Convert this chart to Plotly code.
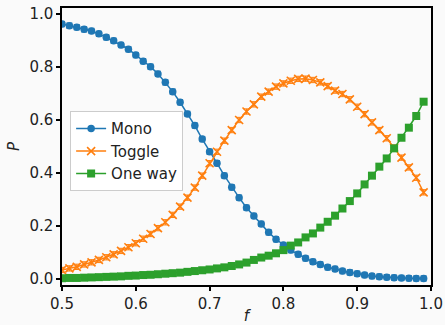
import plotly.graph_objects as go

f_vals = [round(0.50 + 0.01 * i, 2) for i in range(50)]

mono = [0.962, 0.956, 0.950, 0.942, 0.936, 0.925, 0.912, 0.899, 0.883, 0.867,
        0.845, 0.822, 0.801, 0.774, 0.742, 0.707, 0.667, 0.623, 0.579, 0.528,
        0.480, 0.437, 0.390, 0.346, 0.307, 0.269, 0.238, 0.208, 0.176, 0.150,
        0.128, 0.109, 0.093, 0.078, 0.065, 0.055, 0.044, 0.038, 0.030, 0.025,
        0.020, 0.015, 0.011, 0.009, 0.007, 0.005, 0.004, 0.003, 0.002, 0.002]

toggle = [0.034, 0.040, 0.046, 0.055, 0.063, 0.072, 0.082, 0.093, 0.106, 0.120,
          0.135, 0.152, 0.170, 0.192, 0.214, 0.242, 0.273, 0.307, 0.345, 0.390,
          0.437, 0.480, 0.522, 0.562, 0.600, 0.632, 0.659, 0.688, 0.707, 0.726,
          0.738, 0.748, 0.755, 0.756, 0.751, 0.742, 0.728, 0.711, 0.698, 0.678,
          0.650, 0.622, 0.591, 0.562, 0.531, 0.496, 0.458, 0.421, 0.382, 0.327]

one_way = [0.003, 0.004, 0.004, 0.005, 0.006, 0.007, 0.008, 0.009, 0.010, 0.012,
           0.013, 0.015, 0.016, 0.018, 0.020, 0.022, 0.024, 0.027, 0.030, 0.033,
           0.036, 0.040, 0.044, 0.049, 0.055, 0.062, 0.072, 0.081, 0.088, 0.097,
           0.109, 0.126, 0.138, 0.157, 0.172, 0.194, 0.216, 0.239, 0.266, 0.294,
           0.323, 0.357, 0.390, 0.424, 0.455, 0.493, 0.533, 0.571, 0.615, 0.669]

err = [0.010] * 50

series = [
    ("Mono", mono, "#1f77b4", dict(symbol="circle", size=7.5)),
    ("Toggle", toggle, "#ff7f0e", dict(symbol="x-thin", size=8, line=dict(width=1.6, color="#ff7f0e"))),
    ("One way", one_way, "#2ca02c", dict(symbol="square", size=8)),
]

fig = go.Figure()
for name, vals, color, mk in series:
    fig.add_trace(go.Scatter(
        x=f_vals, y=vals, name=name, mode="lines+markers",
        line=dict(color=color, width=1.5),
        marker=dict(color=color, **mk),
        error_y=dict(type="data", array=err, color=color, thickness=1, width=3),
    ))

bg = "#fafafa"
font = dict(family="DejaVu Sans", size=15, color="#222222")
fig.update_layout(
    width=445, height=325,
    margin=dict(l=62, r=14, t=8, b=40),
    paper_bgcolor=bg, plot_bgcolor=bg,
    font=font,
    showlegend=True,
    legend=dict(x=0.022, y=0.627, xanchor="left", yanchor="top",
                bgcolor="#ffffff", bordercolor="#cccccc", borderwidth=1,
                font=dict(family="DejaVu Sans", size=15, color="#222222")),
    xaxis=dict(range=[0.5, 1.0], tickvals=[0.5, 0.6, 0.7, 0.8, 0.9, 1.0],
               tickformat=".1f", showgrid=False, zeroline=False, automargin=False,
               showline=True, linecolor="black", linewidth=1.5, mirror=True,
               ticks="outside", ticklen=4, tickwidth=1.5, tickcolor="black",
               title=dict(text="<i>f</i>", standoff=4, font=dict(size=15))),
    yaxis=dict(range=[-0.0226, 1.0226], tickvals=[0.0, 0.2, 0.4, 0.6, 0.8, 1.0],
               tickformat=".1f", showgrid=False, zeroline=False, automargin=False,
               showline=True, linecolor="black", linewidth=1.5, mirror=True,
               ticks="outside", ticklen=4, tickwidth=1.5, tickcolor="black",
               title=dict(text="<i>P</i>", standoff=6, font=dict(size=15))),
)

fig.write_html("out.html")
